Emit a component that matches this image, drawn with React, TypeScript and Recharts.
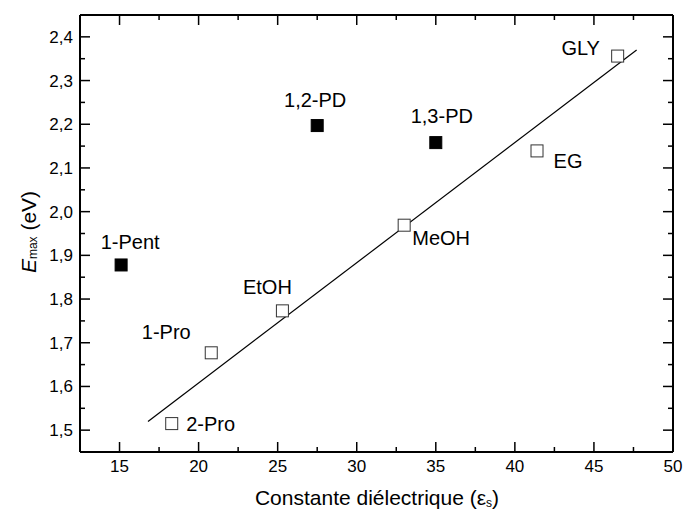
import { ScatterChart, Scatter, XAxis, YAxis, ReferenceLine } from "recharts";

const solvents = ["1-Pent", "1,2-PD", "1,3-PD", "2-Pro", "1-Pro", "EtOH", "MeOH", "EG", "GLY"];
const dielectric = [15.1, 27.5, 35.0, 18.3, 20.8, 25.3, 33.0, 41.4, 46.5];
const emax = [1.878, 2.197, 2.158, 1.515, 1.677, 1.773, 1.969, 2.139, 2.356];
const filledSolvents = ["1-Pent", "1,2-PD", "1,3-PD"];

const fitLine = [
  { x: 16.8, y: 1.52 },
  { x: 47.7, y: 2.37 },
];

const xMajor = [15, 20, 25, 30, 35, 40, 45, 50];
const xMinor = [17.5, 22.5, 27.5, 32.5, 37.5, 42.5, 47.5];
const yMajor = [1.5, 1.6, 1.7, 1.8, 1.9, 2.0, 2.1, 2.2, 2.3, 2.4];
const yMinor = [1.55, 1.65, 1.75, 1.85, 1.95, 2.05, 2.15, 2.25, 2.35];

// label offsets from the marker centre (px)
const labelOffset: Record<string, [number, number]> = {
  "1-Pent": [9, -23],
  "1,2-PD": [-2, -26],
  "1,3-PD": [6, -27],
  "2-Pro": [39, 0],
  "1-Pro": [-45, -21],
  "EtOH": [-15, -24],
  "MeOH": [37, 13],
  "EG": [31, 10],
  "GLY": [-37, -8],
};

const points = solvents.map((name, i) => ({ name, x: dielectric[i], y: emax[i] }));
const filledPts = points.filter((p) => filledSolvents.includes(p.name));
const openPts = points.filter((p) => !filledSolvents.includes(p.name));

const FONT = '"Liberation Sans", Arial, sans-serif';
const W = 683;
const H = 515;
const MARGIN = { top: 15, right: 10, bottom: 0, left: 0 };
const X_AXIS_H = 63;
const Y_AXIS_W = 80;
const X_DOMAIN: [number, number] = [12.5, 50];
const Y_DOMAIN: [number, number] = [1.45, 2.45];
const tickFont = { fill: "#000", fontSize: 17, fontFamily: FONT };

// tick lengths (px) expressed in data units so the inward ticks go through the chart scales
const plotW = W - MARGIN.left - MARGIN.right - Y_AXIS_W;
const plotH = H - MARGIN.top - MARGIN.bottom - X_AXIS_H;
const pxX = (X_DOMAIN[1] - X_DOMAIN[0]) / plotW;
const pxY = (Y_DOMAIN[1] - Y_DOMAIN[0]) / plotH;

function tickSegments() {
  const segs: { key: string; seg: { x: number; y: number }[] }[] = [];
  const [x0, x1] = X_DOMAIN;
  const [y0, y1] = Y_DOMAIN;
  const addX = (v: number, len: number, k: string) => {
    segs.push({ key: "b" + k + v, seg: [{ x: v, y: y0 }, { x: v, y: y0 + len * pxY }] });
    segs.push({ key: "t" + k + v, seg: [{ x: v, y: y1 }, { x: v, y: y1 - len * pxY }] });
  };
  const addY = (v: number, len: number, k: string) => {
    segs.push({ key: "l" + k + v, seg: [{ x: x0, y: v }, { x: x0 + len * pxX, y: v }] });
    segs.push({ key: "r" + k + v, seg: [{ x: x1, y: v }, { x: x1 - len * pxX, y: v }] });
  };
  xMajor.forEach((v) => addX(v, 10, "M"));
  xMinor.forEach((v) => addX(v, 5, "m"));
  yMajor.forEach((v) => addY(v, 10, "M"));
  yMinor.forEach((v) => addY(v, 5, "m"));
  return segs;
}

function Square(props: any) {
  const { cx, cy, payload } = props;
  const filled = filledSolvents.includes(payload.name);
  const s = 12;
  const [dx, dy] = labelOffset[payload.name] || [0, -20];
  return (
    <g>
      <rect
        x={cx - s / 2}
        y={cy - s / 2}
        width={s}
        height={s}
        fill={filled ? "#000" : "#fff"}
        stroke={filled ? "#000" : "#333"}
        strokeWidth={1}
      />
      <text x={cx + dx} y={cy + dy} textAnchor="middle" dominantBaseline="central" fontSize={20} fontFamily={FONT} fill="#000">
        {payload.name}
      </text>
    </g>
  );
}

export default function App() {
  return (
    <div style={{ position: "absolute", left: 0, top: 0, width: W, height: H, background: "#fff" }}>
      <ScatterChart width={W} height={H} margin={MARGIN}>
        <XAxis
          xAxisId="b"
          type="number"
          dataKey="x"
          domain={X_DOMAIN}
          ticks={xMajor}
          interval={0}
          allowDataOverflow
          height={X_AXIS_H}
          tickSize={0}
          tickMargin={8}
          tickLine={false}
          axisLine={{ stroke: "#000", strokeWidth: 2 }}
          tick={tickFont}
        />
        <YAxis
          yAxisId="l"
          type="number"
          dataKey="y"
          domain={Y_DOMAIN}
          ticks={yMajor}
          interval={0}
          allowDataOverflow
          width={Y_AXIS_W}
          tickSize={0}
          tickMargin={7}
          tickLine={false}
          tickFormatter={(v: number) => v.toFixed(1).replace(".", ",")}
          axisLine={{ stroke: "#000", strokeWidth: 2 }}
          tick={tickFont}
        />
        <ReferenceLine xAxisId="b" yAxisId="l" y={Y_DOMAIN[1]} stroke="#000" strokeWidth={2} />
        <ReferenceLine xAxisId="b" yAxisId="l" x={X_DOMAIN[1]} stroke="#000" strokeWidth={2} />
        {tickSegments().map((t) => (
          <ReferenceLine key={t.key} xAxisId="b" yAxisId="l" segment={t.seg} stroke="#000" strokeWidth={1.5} ifOverflow="visible" />
        ))}
        <ReferenceLine
          xAxisId="b"
          yAxisId="l"
          segment={fitLine}
          stroke="#000"
          strokeWidth={1.2}
          ifOverflow="visible"
        />
        <Scatter xAxisId="b" yAxisId="l" data={openPts} shape={<Square />} isAnimationActive={false} />
        <Scatter xAxisId="b" yAxisId="l" data={filledPts} shape={<Square />} isAnimationActive={false} />
      </ScatterChart>
      <svg width={W} height={H} style={{ position: "absolute", left: 0, top: 0, pointerEvents: "none" }}>
        <text x={377} y={497} textAnchor="middle" dominantBaseline="central" fontSize={21} fontFamily={FONT} fill="#000">
          Constante diélectrique (ε
          <tspan fontSize={12} dy={6}>s</tspan>
          <tspan dy={-6}>)</tspan>
        </text>
        <text
          x={28}
          y={232}
          transform="rotate(-90 28 232)"
          textAnchor="middle"
          dominantBaseline="central"
          fontSize={21}
          fontFamily={FONT}
          fill="#000"
        >
          <tspan fontStyle="italic">E</tspan>
          <tspan fontSize={12} dy={5}>max</tspan>
          <tspan dy={-5}> (eV)</tspan>
        </text>
      </svg>
    </div>
  );
}
